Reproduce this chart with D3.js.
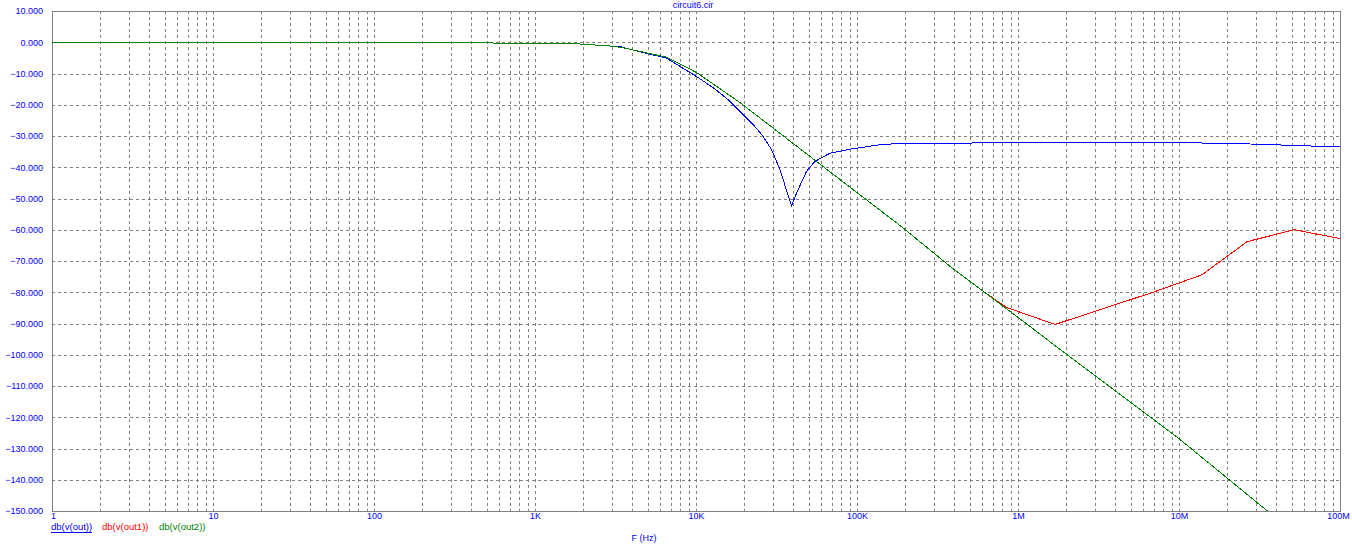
<!DOCTYPE html>
<html>
<head>
<meta charset="utf-8">
<script src="https://cdn.jsdelivr.net/npm/d3@7"></script>
<style>
  html, body { margin: 0; padding: 0; background: #ffffff; }
  svg { display: block; }
  text { font-family: "Liberation Sans", Arial, sans-serif; }
</style>
</head>
<body>
<svg id="chart" width="1352" height="549"></svg>
<script>
// ---- data ----
const chartTitle = "circuit6.cir";
const xTickValues = [1, 10, 100, 1e3, 1e4, 1e5, 1e6, 1e7, 1e8];
const xTickLabels = ["1", "10", "100", "1K", "10K", "100K", "1M", "10M", "100M"];
const yTickValues = [10, 0, -10, -20, -30, -40, -50, -60, -70, -80, -90, -100, -110, -120, -130, -140, -150];
const seriesNames = ["db(v(out))", "db(v(out1))", "db(v(out2))"];
const seriesColors = ["#0000ff", "#ff0000", "#008000"];

// db(v(out)) - blue
const freqOut = [1, 10, 100, 455, 578, 1815, 2924, 3374, 4285, 6577, 10093, 13000, 15850, 18750, 22700, 26000, 29500, 33270, 36900, 39260, 42170, 48640, 54830, 67920, 90570, 139000, 193200, 1e6, 5e6, 1e7, 2e7, 3e7, 5e7, 1e8];
const dbOut   = [0, 0, 0, 0, -0.3, -0.5, -1.2, -1.4, -2.8, -5.1, -11.0, -14.8, -18.4, -22.2, -26.4, -30.0, -34.4, -40.8, -48.2, -52.3, -48.2, -41.3, -38.1, -35.5, -34.2, -32.8, -32.3, -32.2, -32.0, -32.1, -32.4, -32.6, -33.0, -33.5];

// db(v(out1)) - red
const freqOut1 = [1, 10, 100, 455, 578, 1815, 2924, 3374, 4285, 6577, 10093, 18750, 30000, 1e5, 193200, 378000, 600000, 851000, 1.7e6, 6.9e6, 1.39e7, 2.65e7, 5.2e7, 1e8];
const dbOut1   = [0, 0, 0, 0, -0.3, -0.5, -1.2, -1.6, -2.7, -4.8, -9.7, -19.3, -27.4, -48.1, -59.4, -71.7, -79.5, -84.9, -90.3, -80.0, -74.4, -63.8, -60.0, -62.8];

// db(v(out2)) - green
const freqOut2 = [1, 10, 100, 455, 578, 1815, 2924, 3374, 4285, 6577, 10093, 18750, 30000, 1e5, 193200, 378000, 1e6, 1.824e6, 1.014e7, 3.54e7];
const dbOut2   = [0, 0, 0, 0, -0.3, -0.5, -1.2, -1.6, -2.7, -4.8, -9.7, -19.3, -27.4, -48.1, -59.4, -71.7, -88.0, -98.3, -127.1, -150.0];

// ---- layout ----
const svg = d3.select("#chart");
const pLeft = 52, pRight = 1340, pTop = 11, pBottom = 511;
const axisColor = "#808080";
const textColor = "#0000ff";

const x = d3.scaleLog().domain([1, 1e8]).range([pLeft, pRight]);
const y = d3.scaleLinear().domain([-150, 10]).range([pBottom, pTop]);

svg.append("defs").append("clipPath").attr("id", "plotclip")
  .append("rect").attr("x", pLeft).attr("y", pTop).attr("width", pRight - pLeft + 1).attr("height", pBottom - pTop + 1);

// grid
const vGrid = [];
for (let d = 0; d < 8; d++) {
  for (let m = 1; m <= 9; m++) {
    const f = m * Math.pow(10, d);
    if (f > 1 && f < 1e8) vGrid.push(f);
  }
}
const grid = svg.append("g").attr("shape-rendering", "crispEdges")
  .attr("stroke", axisColor).attr("stroke-width", 1).attr("stroke-dasharray", "3,3");
grid.selectAll("line.v").data(vGrid).enter().append("line")
  .attr("x1", d => Math.round(x(d)) + 0.5).attr("x2", d => Math.round(x(d)) + 0.5)
  .attr("y1", pTop).attr("y2", pBottom);
grid.selectAll("line.h").data(yTickValues.filter(v => v > -150 && v < 10)).enter().append("line")
  .attr("y1", d => Math.round(y(d)) + 0.5).attr("y2", d => Math.round(y(d)) + 0.5)
  .attr("x1", pLeft).attr("x2", pRight);

// frame
svg.append("rect").attr("x", pLeft + 0.5).attr("y", pTop + 0.5)
  .attr("width", pRight - pLeft).attr("height", pBottom - pTop)
  .attr("fill", "none").attr("stroke", axisColor).attr("stroke-width", 1)
  .attr("shape-rendering", "crispEdges");

// axes (labels only)
const yAxis = d3.axisLeft(y).tickValues(yTickValues).tickSize(0).tickPadding(0)
  .tickFormat(d3.format(".3f"));
const gy = svg.append("g").attr("transform", `translate(${pLeft - 9},0)`).call(yAxis);
gy.select(".domain").remove();
gy.selectAll("text").attr("fill", textColor).style("font-size", "9px");

const xAxis = d3.axisBottom(x).tickValues(xTickValues).tickSize(0).tickPadding(0)
  .tickFormat((d, i) => xTickLabels[i]);
const gx = svg.append("g").attr("transform", `translate(0,${pBottom + 2})`).call(xAxis);
gx.select(".domain").remove();
gx.selectAll("text").attr("fill", textColor).style("font-size", "9px");
gx.selectAll(".tick").filter((d, i) => i === 0).select("text").attr("dx", "1");
gx.selectAll(".tick").filter((d, i) => i === xTickValues.length - 1).select("text").attr("dx", "-2");

// curves
const line = d3.line().x(d => x(d[0])).y(d => y(d[1]));
const plot = svg.append("g").attr("clip-path", "url(#plotclip)");
const series = [
  d3.zip(freqOut, dbOut),
  d3.zip(freqOut1, dbOut1),
  d3.zip(freqOut2, dbOut2)
];
series.forEach((s, i) => {
  plot.append("path").datum(s).attr("d", line)
    .attr("fill", "none").attr("stroke", seriesColors[i]).attr("stroke-width", 1)
    .attr("shape-rendering", "crispEdges");
});

// title
svg.append("text").attr("x", 693).attr("y", 8).attr("text-anchor", "middle")
  .attr("fill", textColor).style("font-size", "9px").text(chartTitle);

// x axis title
svg.append("text").attr("x", 644).attr("y", 541).attr("text-anchor", "middle")
  .attr("fill", textColor).style("font-size", "9px").text("F (Hz)");

// legend
const legendX = [51, 102, 159];
seriesNames.forEach((n, i) => {
  const t = svg.append("text").attr("x", legendX[i]).attr("y", 530)
    .attr("fill", seriesColors[i]).style("font-size", "9.5px").text(n);
  if (i === 0) {
    const w = t.node().getComputedTextLength();
    svg.append("line").attr("x1", legendX[i]).attr("x2", legendX[i] + w)
      .attr("y1", 532.5).attr("y2", 532.5).attr("stroke", seriesColors[i])
      .attr("stroke-width", 1).attr("shape-rendering", "crispEdges");
  }
});
</script>
</body>
</html>
